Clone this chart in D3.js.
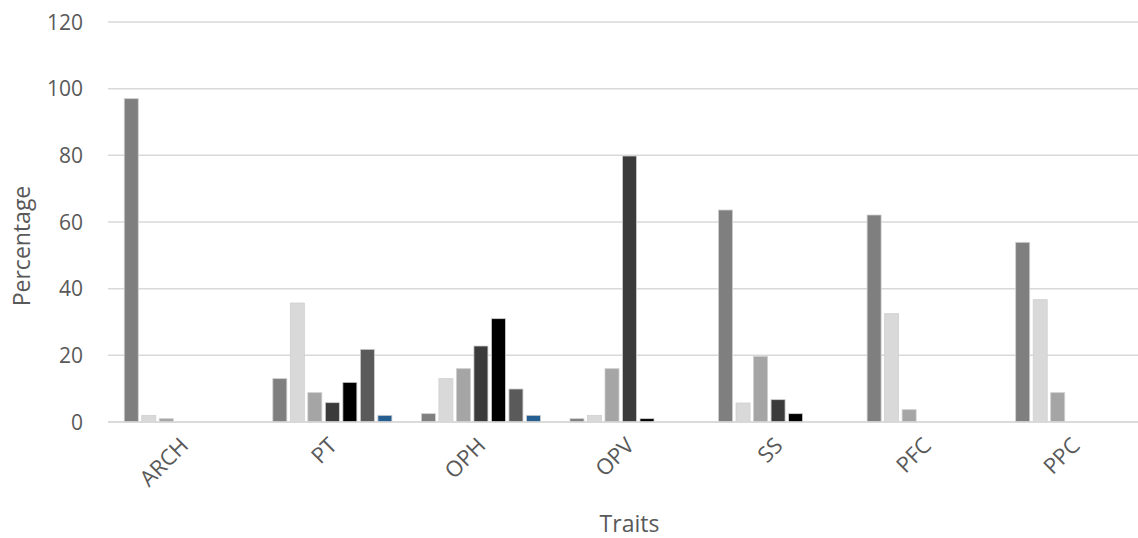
<!DOCTYPE html>
<html>
<head>
<meta charset="utf-8">
<script src="https://cdn.jsdelivr.net/npm/d3@7"></script>
<style>
  html, body { margin: 0; padding: 0; background: #fff; }
  svg { display: block; }
  text { font-family: "Open Sans", "Liberation Sans", sans-serif; fill: #595959; }
</style>
</head>
<body>
<svg id="chart" width="1138" height="538"></svg>
<script>
const categories = ["ARCH", "PT", "OPH", "OPV", "SS", "PFC", "PPC"];
const seriesNames = ["S1", "S2", "S3", "S4", "S5", "S6", "S7"];
const s1 = [97, 13, 2.5, 1, 63.6, 62.1, 53.9];
const s2 = [2, 35.7, 13, 2, 5.7, 32.5, 36.7];
const s3 = [1, 8.8, 16, 16, 19.7, 3.7, 8.8];
const s4 = [0, 5.8, 22.8, 79.8, 6.7, 0, 0];
const s5 = [0, 11.9, 31, 1, 2.5, 0, 0];
const s6 = [0, 21.8, 9.9, 0, 0, 0, 0];
const s7 = [0, 2, 2, 0, 0, 0, 0];
const seriesValues = [s1, s2, s3, s4, s5, s6, s7];
const seriesColors = ["#7f7f7f", "#d9d9d9", "#a5a5a5", "#3b3b3b", "#000000", "#5a5a5a", "#255e91"];
const yTicks = [0, 20, 40, 60, 80, 100, 120];

const svg = d3.select("#chart");
const mLeft = 109.5, mRight = 1149.5, mTop = 22, mBottom = 422;
const gridLeft = 108;

const x0 = d3.scaleBand().domain(categories).range([mLeft, mRight])
  .paddingInner(0.175).paddingOuter(0.0875);
const x1 = d3.scaleBand().domain(seriesNames).range([0, x0.bandwidth()]);
const y = d3.scaleLinear().domain([0, 120]).range([mBottom, mTop]);

// gridlines
svg.append("g").selectAll("line").data(yTicks).join("line")
  .attr("x1", gridLeft).attr("x2", 1138)
  .attr("y1", d => y(d)).attr("y2", d => y(d))
  .attr("stroke", "#d9d9d9").attr("stroke-width", 1.5);

// y tick labels
svg.append("g").selectAll("text").data(yTicks).join("text")
  .attr("x", 83).attr("y", d => y(d))
  .attr("dy", "0.36em").attr("text-anchor", "end")
  .attr("font-size", 21).text(d => d);

// bars
const data = [];
categories.forEach((c, ci) => {
  seriesNames.forEach((s, si) => {
    data.push({ cat: c, ser: s, v: seriesValues[si][ci], color: seriesColors[si] });
  });
});
const inset = 1.75;
svg.append("g").selectAll("rect").data(data.filter(d => d.v > 0)).join("rect")
  .attr("x", d => x0(d.cat) + x1(d.ser) + inset)
  .attr("width", x1.bandwidth() - 2 * inset)
  .attr("y", d => y(d.v))
  .attr("height", d => y(0) - y(d.v))
  .attr("fill", d => d.color)
  .attr("stroke", "#cfcfcf").attr("stroke-width", 0.8);

// x axis line
svg.append("line").attr("x1", gridLeft).attr("x2", 1138)
  .attr("y1", y(0)).attr("y2", y(0))
  .attr("stroke", "#d9d9d9").attr("stroke-width", 1.5);

// category labels (rotated)
svg.append("g").selectAll("text").data(categories).join("text")
  .attr("text-anchor", "end")
  .attr("font-size", 22)
  .attr("transform", d => `translate(${x0(d) + x0.bandwidth() / 2 + 6},${447}) rotate(-45)`)
  .text(d => d);

// axis titles
svg.append("text").attr("text-anchor", "middle").attr("font-size", 23)
  .attr("transform", `translate(30,${246}) rotate(-90)`)
  .text("Percentage");
svg.append("text").attr("text-anchor", "middle").attr("font-size", 23)
  .attr("x", (mLeft + mRight) / 2).attr("y", 532)
  .text("Traits");
</script>
</body>
</html>
